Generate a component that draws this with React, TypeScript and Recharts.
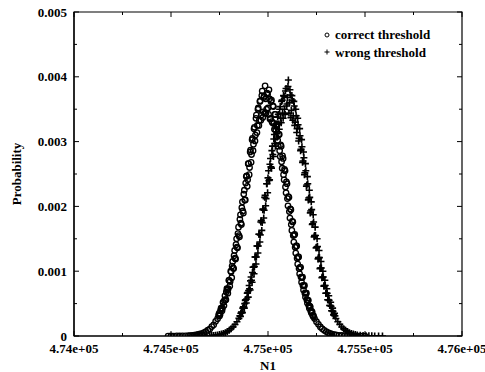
import { ScatterChart, Scatter, XAxis, YAxis, Legend, ReferenceArea } from 'recharts';

// N1 values and probabilities (probabilities in units of 1e-3)
const correctN = [
  474485, 474500, 474515, 474530, 474545, 474560, 474575, 474590, 474600, 474610,
  474620, 474630, 474640, 474650, 474660, 474670, 474680, 474690, 474700, 474710,
  474720, 474730, 474740, 474745, 474750, 474755, 474760, 474765, 474770, 474775,
  474780, 474785, 474790, 474795, 474800, 474805, 474810, 474815, 474820, 474825,
  474830, 474835, 474840, 474845, 474850, 474855, 474860, 474865, 474870, 474875,
  474880, 474885, 474890, 474895, 474900, 474905, 474910, 474915, 474920, 474925,
  474930, 474935, 474940, 474945, 474950, 474955, 474960, 474965, 474970, 474975,
  474980, 474985, 474990, 474995, 475000, 475005, 475010, 475015, 475020, 475025,
  475030, 475035, 475040, 475045, 475050, 475055, 475060, 475065, 475070, 475075,
  475080, 475085, 475090, 475095, 475100, 475105, 475110, 475115, 475120, 475125,
  475130, 475135, 475140, 475145, 475150, 475155, 475160, 475165, 475170, 475175,
  475180, 475185, 475190, 475195, 475200, 475205, 475210, 475215, 475220, 475225,
  475230, 475235, 475240, 475250, 475260, 475270, 475280, 475290, 475300, 475310,
  475320, 475330, 475340, 475350, 475365, 475380, 475395, 475410, 475425, 475440,
  475460, 475480, 475500,
  // in-between bins
  474748, 474753, 474758, 474763, 474768, 474773, 474778, 474783, 474788, 474793,
  474798, 474803, 474808, 474813, 474818, 474823, 474828, 474833, 474838, 474843,
  474848, 474853, 474858, 474863, 474868, 474873, 474878, 474883, 474888, 474893,
  474898, 474903, 474908, 474913, 474918, 474923, 474928, 474933, 474938, 474943,
  474948, 474953, 474958, 474963, 474968, 474973, 474978, 474983, 474988,
  474993, 474998, 475003, 475008, 475013, 475018, 475023, 475028, 475033, 475038,
  475043, 475048, 475053, 475058, 475063, 475068, 475073, 475078, 475083, 475088,
  475093, 475098, 475103, 475108, 475113, 475118, 475123, 475128, 475133, 475138,
  475143, 475148, 475153, 475158, 475163, 475168, 475173, 475178, 475183, 475188,
  475193, 475198, 475203, 475208, 475213, 475218, 475223, 475228, 475233,
];
const correctP = [
  0.0, 0.001, 0.0, 0.002, 0.001, 0.003, 0.002, 0.005, 0.007, 0.01,
  0.012, 0.018, 0.024, 0.031, 0.038, 0.054, 0.066, 0.09, 0.108, 0.145,
  0.172, 0.226, 0.268, 0.32, 0.31, 0.39, 0.42, 0.43, 0.52, 0.55,
  0.56, 0.68, 0.71, 0.73, 0.86, 0.84, 0.99, 1.08, 1.05, 1.24,
  1.2, 1.41, 1.37, 1.58, 1.55, 1.8, 1.74, 1.98, 1.93, 2.19,
  2.1, 2.36, 2.47, 2.41, 2.66, 2.6, 2.87, 2.8, 3.05, 2.96,
  3.22, 3.1, 3.41, 3.25, 3.52, 3.33, 3.63, 3.41, 3.78, 3.46,
  3.7, 3.86, 3.44, 3.75, 3.52, 3.8, 3.35, 3.62, 3.31, 3.55,
  3.28, 3.42, 3.18, 3.26, 3.02, 3.11, 2.86, 2.95, 2.69, 2.78,
  2.49, 2.57, 2.3, 2.38, 2.12, 2.15, 1.92, 1.96, 1.72, 1.77,
  1.55, 1.56, 1.37, 1.39, 1.2, 1.22, 1.04, 1.06, 0.91, 0.9,
  0.78, 0.77, 0.66, 0.66, 0.56, 0.55, 0.47, 0.46, 0.39, 0.38,
  0.32, 0.31, 0.27, 0.22, 0.18, 0.14, 0.11, 0.088, 0.068, 0.052,
  0.04, 0.03, 0.023, 0.017, 0.011, 0.008, 0.005, 0.003, 0.002, 0.001,
  0.001, 0.0, 0.0,
  // in-between bins
  0.35, 0.33, 0.43, 0.39, 0.52, 0.47, 0.62, 0.56, 0.73, 0.66,
  0.86, 0.77, 1.0, 0.9, 1.15, 1.04, 1.32, 1.19, 1.5, 1.36,
  1.68, 1.53, 1.87, 1.72, 2.07, 1.9, 2.25, 2.1, 2.46, 2.31,
  2.66, 2.49, 2.84, 2.68, 3.03, 2.86, 3.2, 3.01, 3.36, 3.14,
  3.5, 3.25, 3.62, 3.33, 3.71, 3.37, 3.68, 3.44, 3.66,
  3.5, 3.73, 3.42, 3.66, 3.36, 3.64, 3.29, 3.54, 3.19, 3.42,
  3.07, 3.27, 2.93, 3.11, 2.77, 2.93, 2.59, 2.74, 2.41, 2.55,
  2.21, 2.35, 2.01, 2.14, 1.82, 1.95, 1.63, 1.76, 1.45, 1.57,
  1.28, 1.39, 1.11, 1.22, 0.96, 1.06, 0.83, 0.91, 0.71, 0.78,
  0.6, 0.66, 0.51, 0.55, 0.43, 0.45, 0.36, 0.37, 0.3,
];

const wrongN = [
  474620, 474640, 474660, 474680, 474700, 474710, 474720, 474730, 474740, 474750,
  474760, 474770, 474780, 474790, 474800, 474810, 474820, 474830, 474840, 474850,
  474855, 474860, 474865, 474870, 474875, 474880, 474885, 474890, 474895, 474900,
  474905, 474910, 474915, 474920, 474925, 474930, 474935, 474940, 474945, 474950,
  474955, 474960, 474965, 474970, 474975, 474980, 474985, 474990, 474995, 475000,
  475005, 475010, 475015, 475020, 475025, 475030, 475035, 475040, 475045, 475050,
  475055, 475060, 475065, 475070, 475075, 475080, 475085, 475090, 475095, 475100,
  475105, 475110, 475115, 475120, 475125, 475130, 475135, 475140, 475145, 475150,
  475155, 475160, 475165, 475170, 475175, 475180, 475185, 475190, 475195, 475200,
  475205, 475210, 475215, 475220, 475225, 475230, 475235, 475240, 475245, 475250,
  475255, 475260, 475265, 475270, 475275, 475280, 475285, 475290, 475295, 475300,
  475305, 475310, 475315, 475320, 475325, 475330, 475335, 475340, 475345, 475350,
  475360, 475370, 475380, 475390, 475400, 475410, 475420, 475430, 475440, 475450,
  475460, 475475, 475490, 475505, 475520, 475535, 475550, 475570, 475590,
  // in-between bins
  474858, 474863, 474868, 474873, 474878, 474883, 474888, 474893, 474898, 474903,
  474908, 474913, 474918, 474923, 474928, 474933, 474938, 474943, 474948, 474953,
  474958, 474963, 474968, 474973, 474978, 474983, 474988, 474993, 474998, 475003,
  475008, 475013, 475018, 475023, 475028, 475033, 475038, 475043, 475048, 475053,
  475058, 475063, 475068, 475073, 475078, 475083, 475088, 475093, 475098,
  475103, 475108, 475113, 475118, 475123, 475128, 475133, 475138, 475143, 475148,
  475153, 475158, 475163, 475168, 475173, 475178, 475183, 475188, 475193, 475198,
  475203, 475208, 475213, 475218, 475223, 475228, 475233, 475238, 475243, 475248,
  475253, 475258, 475263, 475268, 475273, 475278, 475283, 475288, 475293, 475298,
  475303, 475308, 475313, 475318, 475323, 475328, 475333, 475338, 475343,
];
const wrongP = [
  0.0, 0.001, 0.002, 0.003, 0.005, 0.007, 0.009, 0.012, 0.017, 0.023,
  0.03, 0.04, 0.052, 0.068, 0.088, 0.112, 0.141, 0.177, 0.22, 0.272,
  0.31, 0.35, 0.36, 0.43, 0.45, 0.5, 0.56, 0.57, 0.67, 0.7,
  0.73, 0.85, 0.86, 0.98, 1.06, 1.07, 1.22, 1.22, 1.39, 1.39,
  1.57, 1.56, 1.78, 1.75, 1.96, 1.94, 2.17, 2.12, 2.35, 2.44,
  2.4, 2.65, 2.61, 2.86, 2.8, 3.04, 2.97, 3.2, 3.12, 3.38,
  3.27, 3.5, 3.36, 3.62, 3.44, 3.71, 3.5, 3.78, 3.55, 3.68,
  3.95, 3.6, 3.72, 3.48, 3.64, 3.4, 3.55, 3.3, 3.4, 3.2,
  3.26, 3.05, 3.09, 2.88, 2.92, 2.7, 2.75, 2.52, 2.55, 2.33,
  2.35, 2.13, 2.14, 1.93, 1.95, 1.73, 1.76, 1.55, 1.55, 1.37,
  1.38, 1.21, 1.21, 1.05, 1.05, 0.91, 0.91, 0.78, 0.78, 0.66,
  0.66, 0.56, 0.55, 0.47, 0.46, 0.39, 0.38, 0.32, 0.31, 0.27,
  0.22, 0.18, 0.14, 0.11, 0.088, 0.068, 0.052, 0.04, 0.03, 0.023,
  0.017, 0.011, 0.008, 0.005, 0.003, 0.002, 0.001, 0.001, 0.0,
  // in-between bins
  0.3, 0.37, 0.36, 0.45, 0.43, 0.55, 0.51, 0.66, 0.6, 0.78,
  0.71, 0.91, 0.83, 1.06, 0.96, 1.22, 1.11, 1.39, 1.28, 1.57,
  1.45, 1.76, 1.63, 1.95, 1.82, 2.14, 2.01, 2.35, 2.21, 2.55,
  2.41, 2.74, 2.59, 2.93, 2.77, 3.11, 2.93, 3.27, 3.07, 3.42,
  3.19, 3.54, 3.29, 3.64, 3.36, 3.7, 3.42, 3.82, 3.58,
  3.85, 3.44, 3.8, 3.37, 3.71, 3.33, 3.62, 3.25, 3.5, 3.14,
  3.36, 3.01, 3.2, 2.86, 3.03, 2.68, 2.84, 2.49, 2.66, 2.31,
  2.46, 2.1, 2.25, 1.9, 2.07, 1.72, 1.87, 1.53, 1.68, 1.36,
  1.5, 1.19, 1.32, 1.04, 1.15, 0.9, 1.0, 0.77, 0.86, 0.66,
  0.73, 0.56, 0.62, 0.47, 0.52, 0.39, 0.43, 0.33, 0.35,
];

const seriesNames = ['correct threshold', 'wrong threshold'];

const xTicks = [474000, 474250, 474500, 474750, 475000, 475250, 475500, 475750, 476000];
const xTickLabels = ['4.74e+05', '', '4.745e+05', '', '4.75e+05', '', '4.755e+05', '', '4.76e+05'];
const yTicks = [0, 0.0005, 0.001, 0.0015, 0.002, 0.0025, 0.003, 0.0035, 0.004, 0.0045, 0.005];
const yTickLabels = ['0', '', '0.001', '', '0.002', '', '0.003', '', '0.004', '', '0.005'];

const X_DOMAIN = [474000, 476000];
const Y_DOMAIN = [0, 0.005];

const correctData = correctN.map((n, i) => ({ n, p: correctP[i] / 1000 }));
const wrongData = wrongN.map((n, i) => ({ n, p: wrongP[i] / 1000 }));

// plot box geometry (chart 485x372)
const MARGIN = { top: 12, right: 23, bottom: 0, left: 0 };
const Y_AXIS_W = 74;
const X_AXIS_H = 36;
const PLOT_W = 485 - MARGIN.right - Y_AXIS_W;
const PLOT_H = 372 - MARGIN.top - X_AXIS_H;
const X_TICK_GAP = 8;
const Y_TICK_GAP = 7;

const FONT = 'Liberation Serif, Times New Roman, serif';
const textStyle = { fontSize: 13, fontWeight: 'bold', fill: '#000', fontFamily: FONT } as any;

function XTick(props: any) {
  const { x, y, index } = props;
  const label = xTickLabels[index];
  const base = y - X_TICK_GAP;
  const len = label ? 5 : 3;
  return (
    <g>
      <line x1={x} x2={x} y1={base} y2={base - len} stroke="#000" />
      <line x1={x} x2={x} y1={base - PLOT_H} y2={base - PLOT_H + len} stroke="#000" />
      {label && (
        <text x={x} y={y} dy="0.71em" textAnchor="middle" style={textStyle}>
          {label}
        </text>
      )}
    </g>
  );
}

function YTick(props: any) {
  const { x, y, index } = props;
  const label = yTickLabels[index];
  const base = x + Y_TICK_GAP;
  const len = label ? 5 : 3;
  return (
    <g>
      <line x1={base} x2={base + len} y1={y} y2={y} stroke="#000" />
      <line x1={base + PLOT_W} x2={base + PLOT_W - len} y1={y} y2={y} stroke="#000" />
      {label && (
        <text x={x} y={y} dy="0.355em" textAnchor="end" style={textStyle}>
          {label}
        </text>
      )}
    </g>
  );
}

const CircleDot = (props: any) => (
  <circle cx={props.cx} cy={props.cy} r={2.7} fill="none" stroke="#000" strokeWidth={1.35} />
);

const PlusDot = (props: any) => (
  <path
    d={`M${props.cx - 3.5},${props.cy}h7M${props.cx},${props.cy - 3.5}v7`}
    stroke="#000"
    strokeWidth={1.6}
  />
);

function KeyBox() {
  return (
    <svg width={150} height={36} style={{ display: 'block' }}>
      <circle cx={5} cy={9} r={2} fill="none" stroke="#000" strokeWidth={1} />
      <text x={13} y={13} style={textStyle}>
        {seriesNames[0]}
      </text>
      <path d="M2.5,26h5M5,23.5v5" stroke="#000" strokeWidth={1} />
      <text x={13} y={30.5} style={textStyle}>
        {seriesNames[1]}
      </text>
    </svg>
  );
}

export default function App() {
  return (
    <div style={{ position: 'fixed', left: 0, top: 0, width: 485, height: 372, background: '#fff' }}>
      <ScatterChart width={485} height={372} margin={MARGIN} style={{ fontFamily: FONT }}>
        <XAxis
          xAxisId="x"
          type="number"
          dataKey="n"
          domain={X_DOMAIN}
          ticks={xTicks}
          interval={0}
          allowDataOverflow
          tick={<XTick />}
          tickLine={false}
          tickSize={0}
          tickMargin={X_TICK_GAP}
          height={X_AXIS_H}
          axisLine={{ stroke: '#000', strokeWidth: 1.2 }}
          label={{ value: 'N1', position: 'insideBottom', offset: 2, ...textStyle }}
        />
        <YAxis
          yAxisId="y"
          type="number"
          dataKey="p"
          domain={Y_DOMAIN}
          ticks={yTicks}
          interval={0}
          allowDataOverflow
          tick={<YTick />}
          tickLine={false}
          tickSize={0}
          tickMargin={Y_TICK_GAP}
          width={Y_AXIS_W}
          axisLine={{ stroke: '#000', strokeWidth: 1.2 }}
          label={{
            value: 'Probability',
            position: 'insideLeft',
            angle: -90,
            offset: 16,
            ...textStyle,
            style: { textAnchor: 'middle' },
          }}
        />
        <ReferenceArea
          xAxisId="x"
          yAxisId="y"
          x1={X_DOMAIN[0]}
          x2={X_DOMAIN[1]}
          y1={Y_DOMAIN[0]}
          y2={Y_DOMAIN[1]}
          fill="none"
          stroke="#000"
          strokeWidth={1.2}
        />
        <Scatter
          name={seriesNames[0]}
          data={correctData}
          xAxisId="x"
          yAxisId="y"
          shape={CircleDot}
          isAnimationActive={false}
        />
        <Scatter
          name={seriesNames[1]}
          data={wrongData}
          xAxisId="x"
          yAxisId="y"
          shape={PlusDot}
          isAnimationActive={false}
        />
        <Legend
          layout="vertical"
          align="center"
          verticalAlign="middle"
          content={() => <KeyBox />}
          wrapperStyle={{ top: 26, left: 322, width: 150, height: 36 }}
        />
      </ScatterChart>
    </div>
  );
}
